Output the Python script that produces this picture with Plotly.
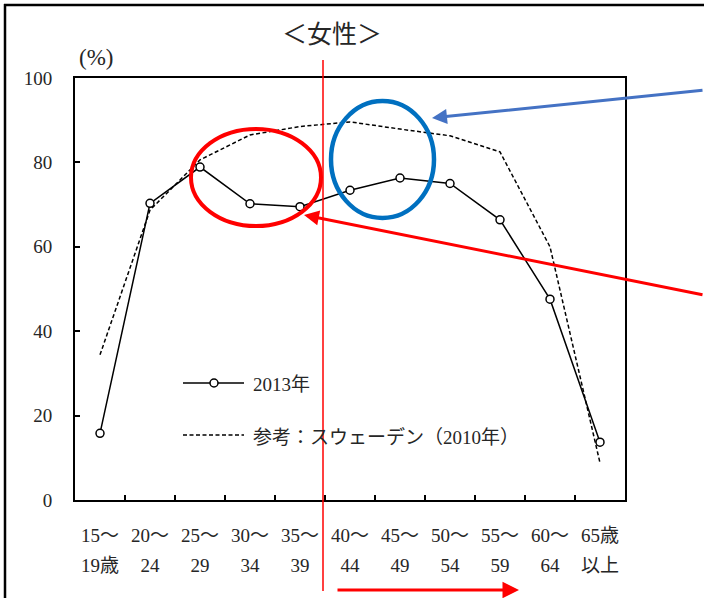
import plotly.graph_objects as go

# ---------------- data ----------------
categories = ["15～19歳", "20～24", "25～29", "30～34", "35～39", "40～44",
              "45～49", "50～54", "55～59", "60～64", "65歳以上"]
tick_row1 = ["15～", "20～", "25～", "30～", "35～", "40～", "45～", "50～", "55～", "60～", "65歳"]
tick_row2 = ["19歳", "24", "29", "34", "39", "44", "49", "54", "59", "64", "以上"]
japan_2013 = [15.8, 70.3, 78.9, 70.2, 69.5, 73.4, 76.3, 75.0, 66.4, 47.6, 13.7]
sweden_2010 = [34.4, 68.7, 80.6, 86.5, 88.5, 89.6, 87.9, 86.3, 82.5, 60.0, 8.8]
series_names = ["2013年", "参考：スウェーデン（2010年）"]
y_ticks = [0, 20, 40, 60, 80, 100]
title_text = "＜女性＞"
unit_text = "(%)"

# ---------------- layout helpers ----------------
W, H = 704, 598
PL, PR, PT, PB = 75, 625, 78, 500
FONT = "Liberation Serif, Noto Sans CJK JP, serif"
TXT = "#262626"


def px(x):
    return (x - PL) / (PR - PL)


def py(y):
    return (PB - y) / (PB - PT)


fig = go.Figure()

fig.add_trace(go.Scatter(
    x=categories, y=sweden_2010, name=series_names[1], mode="lines",
    line=dict(color="black", width=1.5, dash="4px,2.5px"), showlegend=False))
fig.add_trace(go.Scatter(
    x=categories, y=japan_2013, name=series_names[0], mode="lines+markers",
    line=dict(color="black", width=1.5),
    marker=dict(symbol="circle", size=8, color="white", line=dict(color="black", width=1.5)),
    showlegend=False))
# helper trace for the second row of x tick labels
fig.add_trace(go.Scatter(x=list(range(len(categories))), y=[None] * len(categories),
                         xaxis="x2", mode="lines", showlegend=False, hoverinfo="skip"))

n = len(categories)
fig.update_layout(
    width=W, height=H,
    margin=dict(l=PL, r=W - PR, t=PT, b=H - PB),
    paper_bgcolor="white", plot_bgcolor="white",
    font=dict(family=FONT, size=19, color=TXT),
    showlegend=False,
    xaxis=dict(type="category", categoryorder="array", categoryarray=categories,
               range=[-0.5, n - 0.5],
               tickmode="array", tickvals=categories, ticktext=tick_row1,
               tickson="boundaries", ticks="inside", ticklen=5, tickwidth=1.5,
               tickcolor="black", showline=True, linecolor="black", linewidth=2,
               mirror=True, showgrid=False, zeroline=False,
               tickfont=dict(family=FONT, size=19, color=TXT), ticklabelstandoff=17),
    xaxis2=dict(overlaying="x", anchor="y", side="bottom", range=[-0.5, n - 0.5],
                tickmode="array", tickvals=list(range(n)), ticktext=tick_row2,
                ticks="", showline=False, showgrid=False, zeroline=False,
                tickfont=dict(family=FONT, size=19, color=TXT), ticklabelstandoff=52),
    yaxis=dict(range=[0, 100], tickmode="array", tickvals=y_ticks,
               ticks="inside", ticklen=5, tickwidth=1.5, tickcolor="black",
               showline=True, linecolor="black", linewidth=2, mirror=True,
               showgrid=False, zeroline=False,
               tickfont=dict(family=FONT, size=19, color=TXT), ticklabelstandoff=17),
)

shapes = []
# outer frame (left and top visible)
shapes.append(dict(type="line", xref="paper", yref="paper", x0=px(5), x1=px(5),
                   y0=py(4), y1=py(602), line=dict(color="black", width=2.5)))
shapes.append(dict(type="line", xref="paper", yref="paper", x0=px(4), x1=px(708),
                   y0=py(5), y1=py(5), line=dict(color="black", width=2.5)))
# red vertical marker line
shapes.append(dict(type="line", xref="paper", yref="paper", x0=px(323), x1=px(323),
                   y0=py(60), y1=py(591), line=dict(color="#FF0000", width=1.5)))
# ellipses
shapes.append(dict(type="circle", xref="paper", yref="paper", x0=px(191), x1=px(321),
                   y0=py(129), y1=py(226), line=dict(color="#FF0000", width=4)))
shapes.append(dict(type="circle", xref="paper", yref="paper", x0=px(331), x1=px(434),
                   y0=py(101), y1=py(218), line=dict(color="#0070C0", width=4.5)))
# manual legend samples
shapes.append(dict(type="line", xref="paper", yref="paper", x0=px(183), x1=px(244),
                   y0=py(383), y1=py(383), line=dict(color="black", width=1.5)))
shapes.append(dict(type="circle", xref="paper", yref="paper", x0=px(210), x1=px(218),
                   y0=py(379), y1=py(387), fillcolor="white",
                   line=dict(color="black", width=1.5)))
shapes.append(dict(type="line", xref="paper", yref="paper", x0=px(183), x1=px(244),
                   y0=py(435), y1=py(435), line=dict(color="black", width=1.5, dash="4px,2.5px")))
fig.update_layout(shapes=shapes)

ann = []
ann.append(dict(text=title_text, xref="paper", yref="paper", x=px(332), y=py(34),
                showarrow=False, font=dict(family=FONT, size=25, color=TXT),
                xanchor="center", yanchor="middle"))
ann.append(dict(text=unit_text, xref="paper", yref="paper", x=px(96), y=py(57),
                showarrow=False, font=dict(family=FONT, size=23, color=TXT),
                xanchor="center", yanchor="middle"))
ann.append(dict(text=series_names[0], xref="paper", yref="paper", x=px(251), y=py(384),
                showarrow=False, font=dict(family=FONT, size=19, color=TXT),
                xanchor="left", yanchor="middle"))
ann.append(dict(text=series_names[1], xref="paper", yref="paper", x=px(251), y=py(437),
                showarrow=False, font=dict(family=FONT, size=19, color=TXT),
                xanchor="left", yanchor="middle"))
# arrows
ann.append(dict(text="", xref="paper", yref="paper", x=px(432), y=py(118),
                ax=290, ay=-28, showarrow=True, arrowhead=2, arrowsize=1.0,
                arrowwidth=3, arrowcolor="#4472C4", standoff=0))
ann.append(dict(text="", xref="paper", yref="paper", x=px(304), y=py(215),
                ax=420, ay=80, showarrow=True, arrowhead=2, arrowsize=1.0,
                arrowwidth=3, arrowcolor="#FF0000", standoff=0))
ann.append(dict(text="", xref="paper", yref="paper", x=px(519), y=py(590),
                ax=-183, ay=0, showarrow=True, arrowhead=2, arrowsize=1.1,
                arrowwidth=3, arrowcolor="#FF0000", standoff=0))
fig.update_layout(annotations=ann)

fig.write_html("out.html")
